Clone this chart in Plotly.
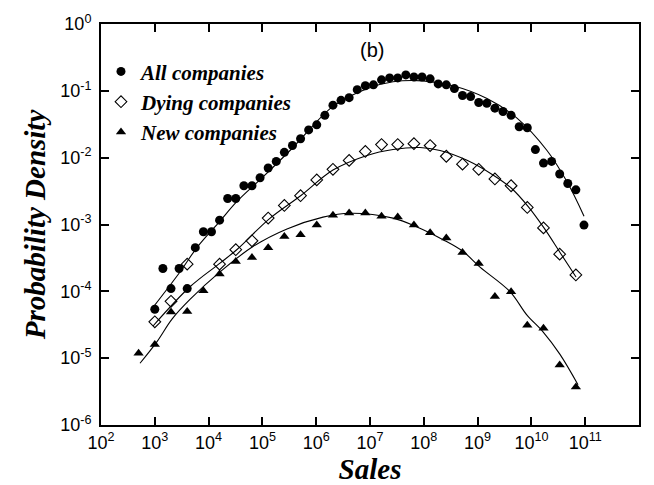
import plotly.graph_objects as go

# ---- data ----
all_x = [1000, 1414, 2000, 2828, 4000, 5657, 8000, 11314, 16000, 22627, 32000, 45255,
         64000, 90510, 1.28e5, 1.81e5, 2.56e5, 3.62e5, 5.12e5, 7.24e5, 1.024e6, 1.448e6,
         2.048e6, 2.896e6, 4.096e6, 5.79e6, 8.19e6, 1.158e7, 1.638e7, 2.317e7, 3.277e7,
         4.634e7, 6.554e7, 9.27e7, 1.311e8, 1.854e8, 2.621e8, 3.707e8, 5.243e8, 7.415e8,
         1.049e9, 1.483e9, 2.097e9, 2.966e9, 4.194e9, 5.932e9, 8.389e9, 1.186e10,
         1.678e10, 2.373e10, 3.355e10, 4.745e10, 6.711e10, 9.49e10]
all_y = [5.4e-5, 2.2e-4, 1.1e-4, 2.2e-4, 1.1e-4, 4.5e-4, 7.8e-4, 7.8e-4, 1.16e-3, 2.45e-3,
         2.45e-3, 3.8e-3, 3.8e-3, 5.0e-3, 7.0e-3, 8.8e-3, 1.2e-2, 1.52e-2, 1.92e-2, 2.6e-2,
         3.1e-2, 4.3e-2, 6.1e-2, 7.2e-2, 7.9e-2, 0.104, 0.119, 0.123, 0.146, 0.156, 0.156,
         0.173, 0.161, 0.161, 0.151, 0.127, 0.123, 0.108, 0.085, 0.082, 0.067, 0.065,
         0.055, 0.049, 0.043, 0.029, 0.028, 0.0132, 8.3e-3, 8.8e-3, 5.7e-3, 4.1e-3,
         3.3e-3, 9.8e-4]

dying_x = [1000, 2000, 4000, 16000, 32000, 64000, 1.28e5, 2.56e5, 5.12e5, 1.024e6,
           2.048e6, 4.096e6, 8.192e6, 1.638e7, 3.277e7, 6.554e7, 1.311e8, 2.621e8,
           5.243e8, 1.049e9, 2.097e9, 4.194e9, 8.389e9, 1.678e10, 3.355e10, 6.711e10]
dying_y = [3.5e-5, 7.1e-5, 2.55e-4, 2.55e-4, 4.2e-4, 5.7e-4, 1.25e-3, 1.93e-3, 2.7e-3,
           4.65e-3, 6.7e-3, 9.1e-3, 1.24e-2, 1.57e-2, 1.57e-2, 1.62e-2, 1.52e-2, 1.05e-2,
           8.0e-3, 6.7e-3, 4.8e-3, 3.8e-3, 1.8e-3, 8.9e-4, 3.6e-4, 1.76e-4]

new_x = [500, 1000, 2000, 4000, 8000, 16000, 32000, 64000, 1.28e5, 2.56e5, 5.12e5,
         1.024e6, 2.048e6, 4.096e6, 8.192e6, 1.638e7, 3.277e7, 6.554e7, 1.311e8,
         2.621e8, 5.243e8, 1.049e9, 2.097e9, 4.194e9, 8.389e9, 1.678e10, 3.355e10,
         6.711e10]
new_y = [1.18e-5, 1.6e-5, 4.9e-5, 5.0e-5, 1.02e-4, 1.82e-4, 2.8e-4, 3.2e-4, 4.5e-4,
         6.6e-4, 7.0e-4, 9.8e-4, 1.38e-3, 1.48e-3, 1.48e-3, 1.33e-3, 1.29e-3, 9.8e-4,
         7.5e-4, 6.3e-4, 3.8e-4, 2.6e-4, 8.4e-5, 9.9e-5, 3.1e-5, 2.8e-5, 7.9e-6, 3.7e-6]

# fitted curves
fit_all_x = [927, 2938, 6081, 16290, 33730, 1.026e5, 3.707e5, 2.051e6, 8.79e6, 2.679e7,
             9.66e7, 3.49e8, 1.496e9, 5.40e9, 1.95e10, 4.59e10, 9.51e10]
fit_all_y = [5.77e-5, 1.95e-4, 4.52e-4, 1.125e-3, 2.21e-3, 5.15e-3, 1.42e-2, 5.86e-2,
             0.1076, 0.1365, 0.141, 0.119, 0.0767, 0.0391, 0.0128, 4.35e-3, 1.33e-3]

fit_dying_x = [927, 4508, 16290, 33730, 1.327e5, 5.21e5, 2.051e6, 8.79e6, 2.679e7,
               8.49e7, 2.0e8, 6.35e8, 1.932e9, 4.355e9, 8.65e9, 1.714e10, 3.40e10, 6.75e10]
fit_dying_y = [3.03e-5, 1.17e-4, 2.64e-4, 4.23e-4, 1.205e-3, 2.71e-3, 6.52e-3, 1.08e-2,
               1.325e-2, 1.42e-2, 1.28e-2, 9.14e-3, 5.51e-3, 3.43e-3, 1.87e-3, 8.89e-4,
               3.82e-4, 1.64e-4]

fit_new_x = [531, 1099, 2089, 4508, 16290, 66830, 2.865e5, 1.337e6, 4.25e6, 2.679e7,
             7.48e7, 2.275e8, 5.36e8, 1.109e9, 4.0e9, 8.28e9, 1.644e10, 3.40e10, 7.35e10]
fit_new_y = [8.4e-6, 1.77e-5, 3.84e-5, 7.56e-5, 1.95e-4, 4.68e-4, 8.59e-4, 1.29e-3,
             1.475e-3, 1.246e-3, 9.19e-4, 5.93e-4, 3.95e-4, 2.30e-4, 9.89e-5, 4.40e-5,
             2.48e-5, 1.14e-5, 4.0e-6]

x_tick_vals = [1e2, 1e3, 1e4, 1e5, 1e6, 1e7, 1e8, 1e9, 1e10, 1e11, 1e12]
x_tick_text = ["10<sup>%d</sup>" % p for p in range(2, 13)]
y_tick_vals = [1e-6, 1e-5, 1e-4, 1e-3, 1e-2, 1e-1, 1e0]
y_tick_text = ["10<sup>%d</sup>" % p for p in range(-6, 1)]

# minor tick positions (2..9 within each decade)
x_minor = [m * 10.0 ** p for p in range(2, 12) for m in range(2, 10)]
y_minor = [m * 10.0 ** p for p in range(-6, 0) for m in range(2, 10)]

fig = go.Figure()

line_style = dict(color="black", width=1.1, shape="spline", smoothing=1.0)
for fx, fy in [(fit_all_x, fit_all_y), (fit_dying_x, fit_dying_y), (fit_new_x, fit_new_y)]:
    fig.add_trace(go.Scatter(x=fx, y=fy, mode="lines", line=line_style,
                             showlegend=False, hoverinfo="skip"))

fig.add_trace(go.Scatter(x=all_x, y=all_y, mode="markers", name="All companies",
                         marker=dict(symbol="circle", size=9, color="black")))
fig.add_trace(go.Scatter(x=dying_x, y=dying_y, mode="markers", name="Dying companies",
                         marker=dict(symbol="diamond-open", size=9, color="black",
                                     line=dict(width=1.1, color="black"))))
fig.add_trace(go.Scatter(x=new_x, y=new_y, mode="markers", name="New companies",
                         marker=dict(symbol="triangle-up", size=9, color="black")))

title_font = dict(family="Liberation Serif, Times New Roman", size=29,
                  color="black", weight="bold", style="italic")

axis_common = dict(
    type="log", showgrid=False, zeroline=False, showline=True, linecolor="black",
    linewidth=2, mirror="allticks", ticks="inside", ticklen=8, tickwidth=1.5,
    tickcolor="black",
    tickfont=dict(family="Liberation Sans, Arial", size=18, color="black"),
)

fig.update_layout(
    xaxis=dict(range=[2, 12], tickmode="array", tickvals=x_tick_vals, ticktext=x_tick_text,
               title=dict(text="Sales", standoff=0, font=title_font), **axis_common),
    yaxis=dict(range=[-6, 0], tickmode="array", tickvals=y_tick_vals, ticktext=y_tick_text,
               ticklabelstandoff=4,
               title=dict(text="Probability Density", standoff=6, font=title_font),
               **axis_common),
    # overlay axes carrying only the minor ticks
    xaxis2=dict(type="log", range=[2, 12], overlaying="x", side="bottom", anchor="y",
                tickmode="array", tickvals=x_minor, showticklabels=False,
                ticks="inside", ticklen=4, tickwidth=1.1, tickcolor="black",
                mirror="allticks", showline=False, showgrid=False, zeroline=False),
    yaxis2=dict(type="log", range=[-6, 0], overlaying="y", side="left", anchor="x",
                tickmode="array", tickvals=y_minor, showticklabels=False,
                ticks="inside", ticklen=4, tickwidth=1.1, tickcolor="black",
                mirror="allticks", showline=False, showgrid=False, zeroline=False),
)

fig.add_annotation(text="(b)", x=0.504, y=0.934, xref="paper", yref="paper",
                   xanchor="center", yanchor="middle", showarrow=False,
                   font=dict(family="Liberation Sans, Arial", size=20, color="black"))

fig.update_layout(
    width=654, height=485,
    margin=dict(l=101, r=15, t=24, b=52),
    paper_bgcolor="white", plot_bgcolor="white",
    legend=dict(x=0.0, y=0.932, xanchor="left", yanchor="top",
                bgcolor="rgba(0,0,0,0)", borderwidth=0, itemwidth=30,
                tracegroupgap=0,
                font=dict(family="Liberation Serif, Times New Roman", size=21,
                          color="black", weight="bold", style="italic")),
)

fig.write_html("out.html")
